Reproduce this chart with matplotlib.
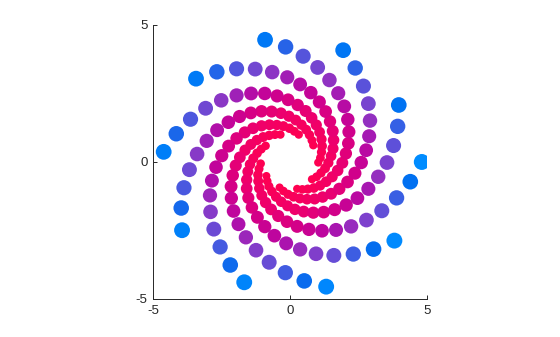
import matplotlib
matplotlib.use("Agg")
import matplotlib.pyplot as plt
import numpy as np
from matplotlib.colors import LinearSegmentedColormap

# ten visible spiral arms, listed from the outer dot inwards
arm0_x = [4.81, 4.39, 3.89, 3.35, 2.79, 2.23, 1.68, 1.17, 0.69, 0.26, -0.11, -0.43, -0.69, -0.89, -1.03, -1.12, -1.16, -1.17, -1.13, -1.07]
arm0_y = [0.00, -0.72, -1.31, -1.78, -2.12, -2.35, -2.48, -2.51, -2.46, -2.35, -2.18, -1.97, -1.73, -1.48, -1.22, -0.96, -0.70, -0.47, -0.25, -0.06]
arm1_x = [3.81, 3.05, 2.31, 1.60, 0.95, 0.37, -0.14, -0.57, -0.92, -1.19, -1.39, -1.52, -1.58, -1.58, -1.54, -1.46, -1.34, -1.20, -1.05, -0.89]
arm1_y = [-2.87, -3.18, -3.36, -3.41, -3.35, -3.19, -2.97, -2.69, -2.36, -2.02, -1.66, -1.31, -0.97, -0.65, -0.35, -0.09, 0.13, 0.32, 0.47, 0.59]
arm2_x = [1.32, 0.52, -0.17, -0.76, -1.24, -1.61, -1.88, -2.06, -2.14, -2.15, -2.09, -1.98, -1.83, -1.64, -1.43, -1.21, -0.98, -0.76, -0.55, -0.35]
arm2_y = [-4.55, -4.34, -4.04, -3.66, -3.22, -2.75, -2.27, -1.79, -1.32, -0.89, -0.49, -0.13, 0.17, 0.43, 0.64, 0.80, 0.91, 0.97, 1.00, 1.00]
arm3_x = [-1.67, -2.18, -2.55, -2.78, -2.90, -2.92, -2.85, -2.70, -2.49, -2.24, -1.95, -1.65, -1.35, -1.04, -0.75, -0.48, -0.24, -0.02, 0.16, 0.32]
arm3_y = [-4.39, -3.76, -3.10, -2.45, -1.82, -1.22, -0.68, -0.19, 0.23, 0.58, 0.86, 1.08, 1.23, 1.32, 1.36, 1.35, 1.31, 1.23, 1.12, 1.00]
arm4_x = [-3.94, -3.97, -3.87, -3.67, -3.39, -3.04, -2.66, -2.25, -1.84, -1.43, -1.04, -0.67, -0.33, -0.04, 0.21, 0.42, 0.59, 0.71, 0.80, 0.85]
arm4_y = [-2.49, -1.68, -0.94, -0.28, 0.29, 0.77, 1.16, 1.45, 1.66, 1.79, 1.85, 1.84, 1.78, 1.67, 1.53, 1.36, 1.18, 0.99, 0.79, 0.61]
arm5_x = [-4.61, -4.15, -3.63, -3.08, -2.51, -1.95, -1.42, -0.92, -0.47, -0.07, 0.28, 0.57, 0.79, 0.96, 1.08, 1.15, 1.17, 1.15, 1.11, 1.03]
arm5_y = [0.37, 1.03, 1.56, 1.96, 2.25, 2.43, 2.50, 2.50, 2.41, 2.27, 2.08, 1.86, 1.61, 1.35, 1.09, 0.83, 0.58, 0.36, 0.15, -0.02]
arm6_x = [-3.43, -2.67, -1.95, -1.27, -0.65, -0.10, 0.37, 0.76, 1.07, 1.30, 1.46, 1.56, 1.59, 1.57, 1.50, 1.40, 1.28, 1.13, 0.97, 0.80]
arm6_y = [3.04, 3.29, 3.40, 3.39, 3.28, 3.09, 2.83, 2.53, 2.19, 1.84, 1.48, 1.13, 0.80, 0.49, 0.22, -0.03, -0.23, -0.40, -0.54, -0.63]
arm7_x = [-0.91, -0.16, 0.48, 1.01, 1.44, 1.76, 1.98, 2.11, 2.15, 2.13, 2.04, 1.91, 1.74, 1.54, 1.32, 1.10, 0.87, 0.65, 0.45, 0.26]
arm7_y = [4.46, 4.20, 3.86, 3.45, 2.99, 2.51, 2.03, 1.55, 1.10, 0.68, 0.31, -0.03, -0.31, -0.54, -0.72, -0.86, -0.95, -0.99, -1.00, -0.98]
arm8_x = [1.94, 2.38, 2.68, 2.86, 2.92, 2.89, 2.78, 2.60, 2.37, 2.10, 1.80, 1.50, 1.19, 0.90, 0.62, 0.36, 0.13, -0.07, -0.24, -0.38]
arm8_y = [4.08, 3.43, 2.77, 2.13, 1.51, 0.94, 0.43, -0.02, -0.41, -0.73, -0.98, -1.16, -1.28, -1.35, -1.36, -1.33, -1.27, -1.18, -1.06, -0.93]
arm9_x = [3.97, 3.93, 3.78, 3.54, 3.22, 2.86, 2.46, 2.05, 1.63, 1.23, 0.85, 0.50, 0.18, -0.09, -0.32, -0.51, -0.66, -0.77, -0.83, -0.86]
arm9_y = [2.08, 1.30, 0.60, -0.02, -0.54, -0.98, -1.32, -1.57, -1.74, -1.83, -1.85, -1.81, -1.73, -1.60, -1.45, -1.27, -1.08, -0.89, -0.70, -0.51]

ticks = [-5, 0, 5]
tick_labels = ["-5", "0", "5"]

xs = [arm0_x, arm1_x, arm2_x, arm3_x, arm4_x, arm5_x, arm6_x, arm7_x, arm8_x, arm9_x]
ys = [arm0_y, arm1_y, arm2_y, arm3_y, arm4_y, arm5_y, arm6_y, arm7_y, arm8_y, arm9_y]
x = np.concatenate([np.asarray(a, dtype=float) for a in xs])
y = np.concatenate([np.asarray(a, dtype=float) for a in ys])
r = np.hypot(x, y)
order = np.argsort(r)  # inner dots first, outer ones on top
x, y, r = x[order], y[order], r[order]

# dot area grows with log-radius, colour runs red -> purple -> blue
grow = np.log(r) / np.log(4.81)
sizes = 33 + 99 * grow

cmap = LinearSegmentedColormap.from_list("spiral", [
    (0.00, "#ff0050"),
    (0.20, "#ee006c"),
    (0.35, "#d40087"),
    (0.46, "#be059e"),
    (0.52, "#aa14af"),
    (0.59, "#962dbe"),
    (0.66, "#7d41cd"),
    (0.73, "#644ed7"),
    (0.82, "#375fe4"),
    (0.90, "#006ef0"),
    (1.00, "#008cff"),
])

plt.rcParams["font.family"] = ["Liberation Sans", "DejaVu Sans"]
plt.rcParams["axes.unicode_minus"] = False

fig = plt.figure(figsize=(5.6, 3.37), dpi=100)
ax = fig.add_axes([0.2732, 0.1128, 0.4893, 0.8131])
ax.scatter(x, y, s=sizes, c=r, cmap=cmap, vmin=1.0, vmax=4.81,
           linewidths=0, zorder=2)

ax.set_xlim(-5, 5)
ax.set_ylim(-5, 5)
ax.set_xticks(ticks)
ax.set_xticklabels(tick_labels)
ax.set_yticks(ticks)
ax.set_yticklabels(tick_labels)
for side in ("top", "right"):
    ax.spines[side].set_visible(False)
for side in ("left", "bottom"):
    ax.spines[side].set_color("#262626")
    ax.spines[side].set_linewidth(0.7)
ax.tick_params(direction="in", length=3, width=0.7, color="#262626",
               labelcolor="#262626", labelsize=9.5, pad=4)

fig.savefig("out.png", dpi=100)
